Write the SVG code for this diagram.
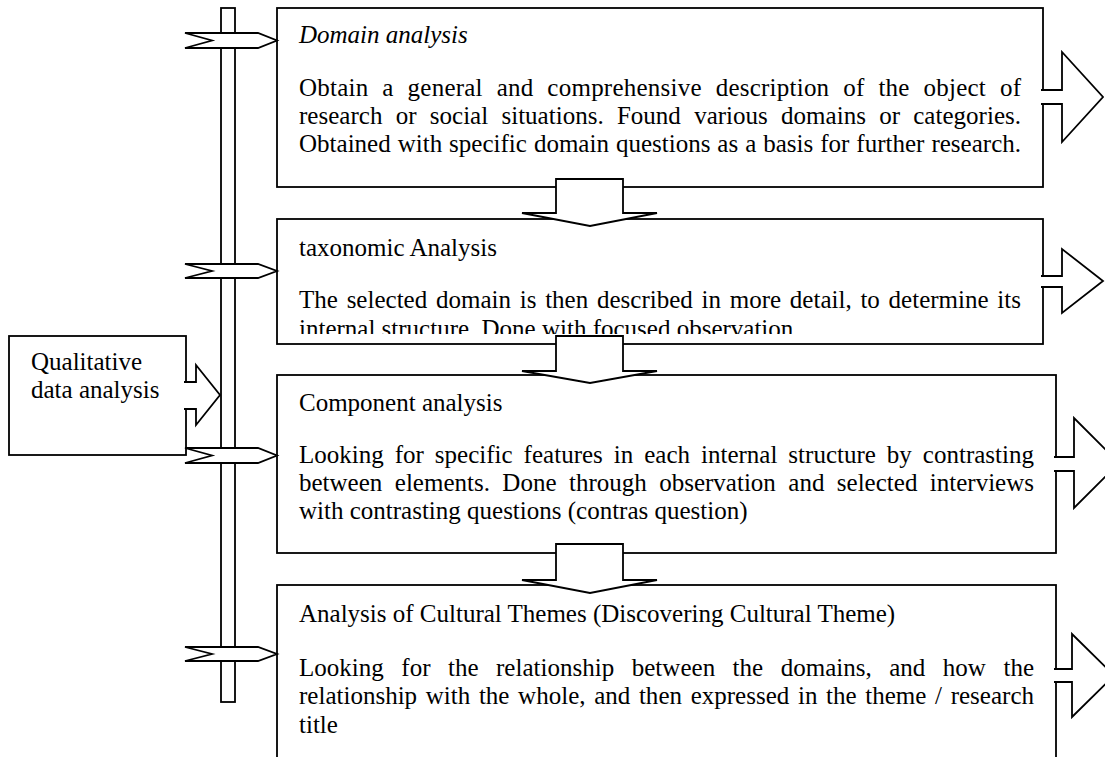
<svg xmlns="http://www.w3.org/2000/svg" width="1105" height="757" viewBox="0 0 1105 757">
<style>
.s{fill:#fff;stroke:#000;stroke-width:1.8;stroke-linejoin:miter}
.t{font-family:"Liberation Serif","Times New Roman",serif;font-size:25px;fill:#000}
.i{font-style:italic}
</style>
<defs>
<clipPath id="c2"><rect x="277" y="219" width="766" height="115"/></clipPath>
</defs>
<rect width="1105" height="757" fill="#fff"/>
<g id="bar"><rect class="s" x="221" y="8" width="14" height="694"/></g>
<g id="box1">
<rect class="s" x="277" y="8" width="766" height="179"/>
<text class="t i" x="299" y="43">Domain analysis</text>
<text class="t" x="299" y="96" word-spacing="7.4" textLength="722" lengthAdjust="spacing">Obtain a general and comprehensive description of the object of</text>
<text class="t" x="299" y="124" word-spacing="7.0" textLength="722" lengthAdjust="spacing">research or social situations. Found various domains or categories.</text>
<text class="t" x="299" y="152" word-spacing="0.7" textLength="722" lengthAdjust="spacing">Obtained with specific domain questions as a basis for further research.</text>
</g>
<g id="box2">
<rect class="s" x="277" y="219" width="766" height="125"/>
<g clip-path="url(#c2)">
<text class="t" x="299" y="256">taxonomic Analysis</text>
<text class="t" x="299" y="308" word-spacing="2.5" textLength="722" lengthAdjust="spacing">The selected domain is then described in more detail, to determine its</text>
<text class="t" x="299" y="337">internal structure. Done with focused observation.</text>
</g>
</g>
<g id="box3">
<rect class="s" x="277" y="375" width="779" height="178"/>
<text class="t" x="299" y="411">Component analysis</text>
<text class="t" x="299" y="463" word-spacing="4.7" textLength="735" lengthAdjust="spacing">Looking for specific features in each internal structure by contrasting</text>
<text class="t" x="299" y="491" word-spacing="6.2" textLength="735" lengthAdjust="spacing">between elements. Done through observation and selected interviews</text>
<text class="t" x="299" y="519">with contrasting questions (contras question)</text>
</g>
<g id="box4">
<rect class="s" x="277" y="585" width="779" height="200"/>
<text class="t" x="299" y="622">Analysis of Cultural Themes (Discovering Cultural Theme)</text>
<text class="t" x="299" y="676" word-spacing="11.2" textLength="735" lengthAdjust="spacing">Looking for the relationship between the domains, and how the</text>
<text class="t" x="299" y="704" word-spacing="2.4" textLength="735" lengthAdjust="spacing">relationship with the whole, and then expressed in the theme / research</text>
<text class="t" x="299" y="733">title</text>
</g>
<g id="qual">
<rect class="s" x="9" y="336" width="177" height="119"/>
<text class="t" x="31" y="370">Qualitative</text>
<text class="t" x="31" y="398">data analysis</text>
</g>
<g id="connectors">
<path class="s" d="M184,382 H196 V365 L220,395 L196,425 V409 H184"/>
<path class="s" d="M185,33 H258 L277,40.5 L258,48 H185 L212,40.5 Z"/>
<path class="s" d="M185,264 H258 L277,271 L258,278 H185 L212,271 Z"/>
<path class="s" d="M185,448 H258 L277,455.5 L258,463 H185 L212,455.5 Z"/>
<path class="s" d="M185,647 H258 L277,654 L258,661 H185 L212,654 Z"/>
<path class="s" d="M556,179 H623 V213 H657 L590,226 L522,213 H556 Z"/>
<path class="s" d="M556,336 H623 V371 H657 L590,383 L522,371 H556 Z"/>
<path class="s" d="M556,544 H623 V580 H657 L590,593 L522,580 H556 Z"/>
<path class="s" d="M1041,90 H1062 V52 L1103,97 L1062,142 V104 H1041"/>
<path class="s" d="M1041,276 H1062 V249 L1103,281 L1062,313 V287 H1041"/>
<path class="s" d="M1054,457 H1074 V418 L1119,463 L1074,508 V471 H1054"/>
<path class="s" d="M1054,669 H1072 V634 L1114,675.5 L1072,717 V682 H1054"/>
</g>
</svg>
